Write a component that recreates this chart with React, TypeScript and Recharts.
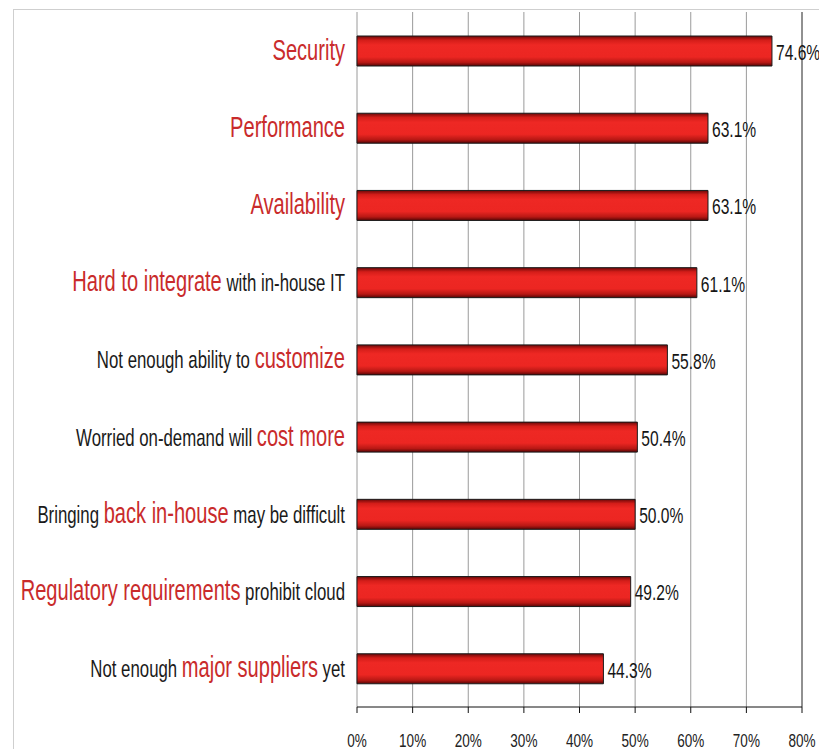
import { Bar, BarChart, CartesianGrid, LabelList, ReferenceLine, XAxis, YAxis } from "recharts";

const categories = [
    "Security",
    "Performance",
    "Availability",
    "Hard to integrate",
    "Customize",
    "Cost more",
    "Back in-house",
    "Regulatory",
    "Major suppliers",
];

const values = [74.6, 63.1, 63.1, 61.1, 55.8, 50.4, 50.0, 49.2, 44.3];

// label pieces: [text, highlighted]
const labelParts: [string, boolean][][] = [
    [["Security", true]],
    [["Performance", true]],
    [["Availability", true]],
    [["Hard to integrate", true], [" with in-house IT", false]],
    [["Not enough ability to ", false], ["customize", true]],
    [["Worried on-demand will ", false], ["cost more", true]],
    [["Bringing ", false], ["back in-house", true], [" may be difficult", false]],
    [["Regulatory requirements", true], [" prohibit cloud", false]],
    [["Not enough ", false], ["major suppliers", true], [" yet", false]],
];

const xTicks = [0, 10, 20, 30, 40, 50, 60, 70, 80];
const boundaryTicks = [0, 1, 2, 3, 4, 5, 6, 7, 8, 9];

const data = categories.map((name, i) => ({ name, value: values[i] }));

// narrow look: Arial-metric font squeezed sideways
const FONT = "'Liberation Sans', Arimo, Arial, sans-serif";
const RED = "#c92b2b";

function CategoryTick(props: any) {
    const { x, y, payload } = props;
    const parts = labelParts[categories.indexOf(payload.value)] || [];
    return (
        <g transform={`translate(${x},${y + 2}) scale(0.82,1.2)`}>
            <text x={0} y={0} dy="0.36em" textAnchor="end" fontFamily={FONT}>
                {parts.map(([t, hi], k) => (
                    <tspan key={k} fill={hi ? RED : "#1a1a1a"} fontSize={hi ? 24.5 : 20.5}>
                        {t}
                    </tspan>
                ))}
            </text>
        </g>
    );
}

function PercentTick(props: any) {
    const { x, y, payload } = props;
    return (
        <g transform={`translate(${x},${y}) scale(0.82,1.1)`}>
            <text x={0} y={0} dy="0.71em" textAnchor="middle" fill="#222" fontSize={16.5} fontFamily={FONT}>
                {`${payload.value}%`}
            </text>
        </g>
    );
}

function ValueLabel(props: any) {
    const { x, y, width, height, value } = props;
    return (
        <g transform={`translate(${Number(x) + Number(width) + 4},${Number(y) + Number(height) / 2 + 1}) scale(0.8,1.12)`}>
            <text x={0} y={0} dy="0.36em" fill="#151515" fontSize={19.5} fontFamily={FONT}>
                {`${Number(value).toFixed(1)}%`}
            </text>
        </g>
    );
}

export default function App() {
    return (
        <div style={{ position: "absolute", left: 0, top: 0, width: 819, height: 749, background: "#fff" }}>
            <div style={{ position: "absolute", left: 13, top: 9, right: 0, bottom: 0, borderLeft: "1px solid #cfcfcf", borderTop: "1px solid #cfcfcf" }} />
            <BarChart
                width={819}
                height={749}
                data={data}
                layout="vertical"
                margin={{ top: 12, right: 17, bottom: 0, left: 0 }}
                style={{ position: "absolute", left: 0, top: 0 }}
            >
                <defs>
                    <linearGradient id="barFill" x1="0" y1="0" x2="0" y2="1">
                        <stop offset="0%" stopColor="#6a0808" />
                        <stop offset="14%" stopColor="#d41d19" />
                        <stop offset="30%" stopColor="#ee2824" />
                        <stop offset="70%" stopColor="#ec2622" />
                        <stop offset="88%" stopColor="#b81814" />
                        <stop offset="100%" stopColor="#560505" />
                    </linearGradient>
                </defs>
                <CartesianGrid yAxisId="cat" horizontal={false} stroke="#9a9a9a" strokeWidth={1} />
                <XAxis
                    type="number"
                    domain={[0, 80]}
                    ticks={xTicks}
                    height={42}
                    tickSize={6}
                    tickMargin={21}
                    stroke="#111"
                    tick={<PercentTick />}
                    interval={0}
                />
                <XAxis xAxisId="top" orientation="top" type="number" domain={[0, 80]} height={0} tick={false} tickLine={false} stroke="#808080" />
                <YAxis
                    yAxisId="edge"
                    type="number"
                    domain={[0, 9]}
                    ticks={boundaryTicks}
                    width={0}
                    tickSize={4}
                    tickFormatter={() => ""}
                    stroke="#444"
                />
                <YAxis
                    yAxisId="cat"
                    type="category"
                    dataKey="name"
                    width={357}
                    tickLine={false}
                    axisLine={false}
                    tickSize={0}
                    tickMargin={12}
                    tick={<CategoryTick />}
                    interval={0}
                />
                <ReferenceLine yAxisId="cat" x={80} stroke="#555" />
                <Bar yAxisId="cat" dataKey="value" barSize={30} fill="url(#barFill)" stroke="#1a1a1a" strokeWidth={1} isAnimationActive={false}>
                    <LabelList dataKey="value" content={<ValueLabel />} />
                </Bar>
            </BarChart>
        </div>
    );
}
